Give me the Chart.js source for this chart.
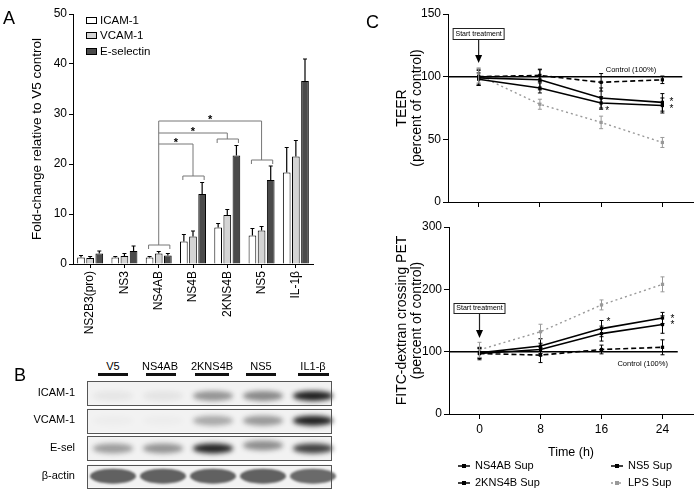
<!DOCTYPE html>
<html>
<head>
<meta charset="utf-8">
<script src="https://cdn.jsdelivr.net/npm/chart.js@4.4.0/dist/chart.umd.min.js"></script>
<style>
body { margin: 0; background: #fff; font-family: 'Liberation Sans', Arial, sans-serif; color: #000; }
#wrap { position: relative; width: 700px; height: 498px; overflow: hidden; }
canvas { position: absolute; }
.t { position: absolute; white-space: nowrap; line-height: 1; }
.bar { position: absolute; height: 3px; background: #111; }
.sw { position: absolute; width: 11px; height: 7px; border: 1px solid #000; box-sizing: border-box; }
</style>
</head>
<body>
<div id="wrap">
  <canvas id="chartA" width="330" height="350" style="left:0;top:0"></canvas>
  <canvas id="blot" width="260" height="111" style="left:80px;top:379px"></canvas>
  <canvas id="teer" width="330" height="215" style="left:370px;top:0"></canvas>
  <canvas id="fitc" width="330" height="245" style="left:370px;top:215px"></canvas>

  <div class="t" style="left:3px;top:9px;font-size:18px">A</div>
  <div class="t" style="left:14px;top:366px;font-size:18px">B</div>
  <div class="t" style="left:366px;top:13px;font-size:18px">C</div>

  <!-- panel A legend -->
  <div class="sw" style="left:86px;top:17px;background:#fff"></div>
  <div class="t" style="left:100px;top:15px;font-size:11.5px">ICAM-1</div>
  <div class="sw" style="left:86px;top:32px;background:#d4d4d4"></div>
  <div class="t" style="left:100px;top:30px;font-size:11.5px">VCAM-1</div>
  <div class="sw" style="left:86px;top:48px;background:#4a4a4a"></div>
  <div class="t" style="left:100px;top:46px;font-size:11.5px">E-selectin</div>

  <div id="blotText"></div>
  <div id="legendC"></div>
</div>
<script>
Chart.defaults.font.family = "'Liberation Sans', Arial, sans-serif";
Chart.defaults.color = '#000';

// ---- Panel A data ----
const categories = ['NS2B3(pro)', 'NS3', 'NS4AB', 'NS4B', '2KNS4B', 'NS5', 'IL-1β'];
const icam = [1.3, 1.3, 1.3, 4.5, 7.3, 5.7, 18.3];
const icamErr = [0.4, 0.2, 0.2, 1.4, 0.8, 1.4, 5.0];
const vcam = [1.2, 1.6, 2.1, 5.5, 9.8, 6.7, 21.5];
const vcamErr = [0.3, 0.5, 0.4, 1.1, 1.1, 0.8, 3.2];
const esel = [2.1, 2.6, 1.7, 14.0, 21.7, 16.8, 36.6];
const eselErr = [0.5, 1.0, 0.4, 2.3, 2.0, 2.8, 4.4];

// significance brackets (from NS4AB to each group)
const sigFrom = 2;
const sigBase = 3.8;
const sigTo = [3, 4, 5];
const sigLevel = [24, 26.2, 28.6];
const sigDrop = [17.6, 25, 20.8];

// ---- Panel B band intensities ----
const blotLanes = ['V5', 'NS4AB', '2KNS4B', 'NS5', 'IL1-β'];
const blotRows = ['ICAM-1', 'VCAM-1', 'E-sel', 'β-actin'];
const bandICAM = [0.05, 0.06, 0.42, 0.48, 0.95];
const bandVCAM = [0.02, 0.02, 0.32, 0.4, 0.95];
const bandEsel = [0.38, 0.42, 0.92, 0.45, 0.8];
const bandActin = [0.8, 0.8, 0.8, 0.8, 0.75];

// ---- Panel C data ----
const times = [0, 8, 16, 24];
const teerNS4AB = [100, 101, 95.5, 97.5];
const teerNS4ABErr = [6, 5, 7, 3];
const teer2KNS4B = [98, 91, 79, 77];
const teer2KNS4BErr = [5, 4, 5, 6];
const teerNS5 = [99, 97.5, 83, 79.5];
const teerNS5Err = [6, 8, 8, 7];
const teerLPS = [101, 78, 63.5, 47.5];
const teerLPSErr = [6, 4, 5, 4];

const fitcNS4AB = [97, 94.5, 103.5, 107];
const fitcNS4ABErr = [8, 12, 7, 12];
const fitc2KNS4B = [98, 109, 137, 154];
const fitc2KNS4BErr = [8, 12, 13, 9];
const fitcNS5 = [97, 103.5, 129, 143.5];
const fitcNS5Err = [10, 10, 12, 14];
const fitcLPS = [103, 132, 175, 208];
const fitcLPSErr = [12, 12, 8, 12];

// ---------- Panel A ----------
const barErrPlugin = {
  id: 'barErr',
  afterDatasetsDraw(chart) {
    const ctx = chart.ctx, y = chart.scales.y;
    ctx.save();
    ctx.strokeStyle = '#000';
    ctx.lineWidth = 1.2;
    chart.data.datasets.forEach((ds, i) => {
      chart.getDatasetMeta(i).data.forEach((bar, j) => {
        const top = y.getPixelForValue(ds.data[j] + ds.errs[j]);
        ctx.beginPath();
        ctx.moveTo(bar.x, bar.y);
        ctx.lineTo(bar.x, top);
        ctx.moveTo(bar.x - 2, top);
        ctx.lineTo(bar.x + 2, top);
        ctx.stroke();
      });
    });
    ctx.restore();
  }
};

const sigPlugin = {
  id: 'sig',
  afterDatasetsDraw(chart) {
    const ctx = chart.ctx, y = chart.scales.y;
    const first = chart.getDatasetMeta(0).data, last = chart.getDatasetMeta(2).data;
    const mid = chart.getDatasetMeta(1).data;
    const bracket = (i, v) => {
      const l = first[i].x - 1, r = last[i].x + 2, py = y.getPixelForValue(v);
      ctx.moveTo(l, py + 4); ctx.lineTo(l, py); ctx.lineTo(r, py); ctx.lineTo(r, py + 4);
    };
    ctx.save();
    ctx.strokeStyle = '#777';
    ctx.lineWidth = 1;
    ctx.beginPath();
    bracket(sigFrom, sigBase);
    const x0 = mid[sigFrom].x;
    ctx.moveTo(x0, y.getPixelForValue(sigBase));
    ctx.lineTo(x0, y.getPixelForValue(sigLevel[sigLevel.length - 1]));
    sigTo.forEach((t, k) => {
      const py = y.getPixelForValue(sigLevel[k]);
      const x1 = mid[t].x;
      ctx.moveTo(x0, py); ctx.lineTo(x1, py);
      ctx.lineTo(x1, y.getPixelForValue(sigDrop[k]));
      bracket(t, sigDrop[k]);
    });
    ctx.stroke();
    ctx.fillStyle = '#000';
    ctx.font = "bold 11px 'Liberation Sans', Arial";
    ctx.textAlign = 'center';
    ctx.textBaseline = 'alphabetic';
    sigTo.forEach((t, k) => {
      ctx.fillText('*', (x0 + mid[t].x) / 2, y.getPixelForValue(sigLevel[k]) + 2);
    });
    ctx.restore();
  }
};

const barStyle = { borderColor: '#000', borderWidth: 1, categoryPercentage: 0.8, barPercentage: 0.84 };
new Chart(document.getElementById('chartA'), {
  type: 'bar',
  data: {
    labels: categories,
    datasets: [
      Object.assign({ label: 'ICAM-1', data: icam, errs: icamErr, backgroundColor: '#fff' }, barStyle),
      Object.assign({ label: 'VCAM-1', data: vcam, errs: vcamErr, backgroundColor: '#d4d4d4' }, barStyle),
      Object.assign({ label: 'E-selectin', data: esel, errs: eselErr, backgroundColor: '#4a4a4a' }, barStyle)
    ]
  },
  options: {
    responsive: false,
    animation: false,
    layout: { padding: { top: 14, right: 17, left: 0, bottom: 0 } },
    plugins: { legend: { display: false }, tooltip: { enabled: false } },
    scales: {
      x: {
        grid: { display: true, drawOnChartArea: false, offset: false, tickLength: 4, color: '#000' },
        border: { color: '#000' },
        ticks: { minRotation: 90, maxRotation: 90, autoSkip: false, font: { size: 12 } },
        afterFit(s) { s.height = 86; }
      },
      y: {
        min: 0, max: 50,
        ticks: { stepSize: 10, font: { size: 12 }, padding: 2 },
        grid: { drawOnChartArea: false, tickLength: 4, color: '#000' },
        border: { color: '#000' },
        title: { display: true, text: 'Fold-change relative to V5 control', font: { size: 13.5 }, padding: { top: 29, bottom: 0 } },
        afterFit(s) { s.width = 73; }
      }
    }
  },
  plugins: [barErrPlugin, sigPlugin]
});

// ---------- Panel B ----------
const bandSets = [bandICAM, bandVCAM, bandEsel, bandActin];
const blotPlugin = {
  id: 'blotDraw',
  beforeDatasetsDraw(chart) {
    const ctx = chart.ctx, x = chart.scales.x, y = chart.scales.y;
    const bl = x.getPixelForValue(-0.52), br = x.getPixelForValue(4.36);
    ctx.save();
    blotRows.forEach((r, i) => {
      const cy = y.getPixelForValue(i + 0.5);
      const h = i === 3 ? 23 : 24;
      ctx.fillStyle = '#f2f2f2';
      ctx.fillRect(bl, cy - h / 2, br - bl, h);
    });
    chart.data.datasets.forEach((ds, i) => {
      chart.getDatasetMeta(i).data.forEach((pt, j) => {
        const v = ds.data[j].v;
        ctx.save();
        if (i === 3) {
          ctx.filter = 'blur(1.2px)';
          ctx.fillStyle = 'rgba(60,60,60,' + v + ')';
          ctx.beginPath();
          ctx.ellipse(pt.x, pt.y, 23, 7.5, 0, 0, Math.PI * 2);
          ctx.fill();
        } else {
          ctx.filter = 'blur(2.5px)';
          ctx.fillStyle = 'rgba(20,20,20,' + v + ')';
          const dy = (i === 0 ? 3 : 0) + (i === 2 && j === 3 ? -3 : 0);
          ctx.beginPath();
          ctx.ellipse(pt.x, pt.y + dy, 20, 5, 0, 0, Math.PI * 2);
          ctx.fill();
        }
        ctx.restore();
      });
    });
    ctx.strokeStyle = '#555';
    ctx.lineWidth = 1;
    blotRows.forEach((r, i) => {
      const cy = y.getPixelForValue(i + 0.5);
      const h = i === 3 ? 23 : 24;
      ctx.strokeRect(bl + 0.5, Math.round(cy - h / 2) + 0.5, br - bl, h);
    });
    ctx.restore();
  }
};
new Chart(document.getElementById('blot'), {
  type: 'scatter',
  data: {
    datasets: bandSets.map((arr, i) => ({
      label: blotRows[i],
      data: arr.map((v, j) => ({ x: j, y: i + 0.5, v: v })),
      pointRadius: 0
    }))
  },
  options: {
    responsive: false,
    animation: false,
    layout: { padding: { left: 8, right: 2, top: 0, bottom: 0 } },
    plugins: { legend: { display: false }, tooltip: { enabled: false } },
    scales: {
      x: { display: false, min: -0.5, max: 4.5 },
      y: { display: false, min: 0, max: 4, reverse: true }
    }
  },
  plugins: [blotPlugin]
});

// blot labels
(function () {
  const box = document.getElementById('blotText');
  const laneX = [113, 160, 212, 261, 313];
  const barSpan = [[98, 128], [146, 176], [195, 229], [246, 276], [298, 329]];
  let html = '';
  blotLanes.forEach((l, i) => {
    html += '<div class="t" style="left:' + (laneX[i] - 40) + 'px;width:80px;text-align:center;top:361px;font-size:11px">' + l + '</div>';
    html += '<div class="bar" style="left:' + barSpan[i][0] + 'px;width:' + (barSpan[i][1] - barSpan[i][0]) + 'px;top:373px"></div>';
  });
  const rowY = [393, 420, 448, 476];
  blotRows.forEach((r, i) => {
    html += '<div class="t" style="left:0;width:75px;text-align:right;top:' + (rowY[i] - 6) + 'px;font-size:11px">' + r + '</div>';
  });
  box.innerHTML = html;
})();

// ---------- Panel C ----------
const lineErrPlugin = {
  id: 'lineErr',
  afterDatasetsDraw(chart) {
    const ctx = chart.ctx, y = chart.scales.y;
    ctx.save();
    chart.data.datasets.forEach((ds, i) => {
      if (!ds.errs) return;
      ctx.strokeStyle = ds.borderColor;
      ctx.lineWidth = 1;
      chart.getDatasetMeta(i).data.forEach((pt, j) => {
        const v = ds.data[j].y, e = ds.errs[j];
        const t = y.getPixelForValue(v + e), b = y.getPixelForValue(v - e);
        ctx.beginPath();
        ctx.moveTo(pt.x, t); ctx.lineTo(pt.x, b);
        ctx.moveTo(pt.x - 2, t); ctx.lineTo(pt.x + 2, t);
        ctx.moveTo(pt.x - 2, b); ctx.lineTo(pt.x + 2, b);
        ctx.stroke();
      });
    });
    ctx.restore();
  }
};

const notesPlugin = {
  id: 'notes',
  afterDatasetsDraw(chart, args, o) {
    const ctx = chart.ctx, x = chart.scales.x, y = chart.scales.y;
    ctx.save();
    // start treatment box + arrow
    const bx = x.getPixelForValue(0), by = Math.round(y.getPixelForValue(o.boxTop)) + 0.5;
    ctx.fillStyle = '#fff';
    ctx.strokeStyle = '#222';
    ctx.lineWidth = 1;
    ctx.fillRect(bx - 25.5, by, 51, o.boxH);
    ctx.strokeRect(bx - 25.5, by, 51, o.boxH);
    ctx.fillStyle = '#000';
    ctx.font = "7px 'Liberation Sans', Arial";
    ctx.textAlign = 'center';
    ctx.textBaseline = 'middle';
    ctx.fillText('Start treatment', bx, by + o.boxH / 2);
    const tip = y.getPixelForValue(o.arrowTip);
    ctx.lineWidth = 1.2;
    ctx.beginPath();
    ctx.moveTo(bx, by + o.boxH);
    ctx.lineTo(bx, tip - 6);
    ctx.stroke();
    ctx.beginPath();
    ctx.moveTo(bx - 3.5, tip - 8);
    ctx.lineTo(bx + 3.5, tip - 8);
    ctx.lineTo(bx, tip);
    ctx.closePath();
    ctx.fill();
    // control label
    ctx.font = "7.5px 'Liberation Sans', Arial";
    ctx.fillText('Control (100%)', x.getPixelForValue(o.ctrlX), y.getPixelForValue(o.ctrlY));
    // asterisks
    ctx.font = "10px 'Liberation Sans', Arial";
    o.stars.forEach(s => {
      ctx.fillText('*', x.getPixelForValue(s[0]), y.getPixelForValue(s[1]) + 2);
    });
    ctx.restore();
  }
};

function seriesSet(values, errs) {
  const style = [
    { label: 'NS4AB Sup', borderColor: '#000', borderDash: [5, 3], borderWidth: 1.6 },
    { label: '2KNS4B Sup', borderColor: '#000', borderDash: [], borderWidth: 1.6 },
    { label: 'NS5 Sup', borderColor: '#000', borderDash: [], borderWidth: 1.6 },
    { label: 'LPS Sup', borderColor: '#999', borderDash: [2, 3], borderWidth: 1.4 }
  ];
  return style.map((s, i) => Object.assign({
    data: times.map((t, j) => ({ x: t, y: values[i][j] })),
    errs: errs[i],
    backgroundColor: s.borderColor,
    pointStyle: 'rect',
    pointRadius: 2.3,
    pointBorderWidth: 0,
    tension: 0
  }, s));
}

function lineChart(id, sets, yMax, yStep, yTitle, ctrlEnd, axisH, showTicks, notes) {
  const control = {
    label: 'Control',
    data: [{ x: -4, y: 100 }, { x: ctrlEnd, y: 100 }],
    borderColor: '#000', borderWidth: 1.5, pointRadius: 0
  };
  return new Chart(document.getElementById(id), {
    type: 'line',
    data: { datasets: [control].concat(sets) },
    options: {
      responsive: false,
      animation: false,
      layout: { padding: { top: id === 'teer' ? 14 : 12, right: 7, left: 0, bottom: 0 } },
      plugins: { legend: { display: false }, tooltip: { enabled: false }, notes: notes },
      scales: {
        x: {
          type: 'linear', min: -4, max: 28,
          afterBuildTicks(s) { s.ticks = times.map(v => ({ value: v })); },
          grid: { drawOnChartArea: false, tickLength: 5, color: '#000' },
          border: { color: '#000' },
          ticks: { font: { size: 12 }, padding: 3, color: showTicks ? '#000' : 'rgba(0,0,0,0)' },
          title: { display: showTicks, text: 'Time (h)', font: { size: 12.5 }, padding: { top: 3, bottom: 0 } },
          afterFit(s) { s.height = axisH; }
        },
        y: {
          min: 0, max: yMax,
          ticks: { stepSize: yStep, font: { size: 12 }, padding: 2 },
          grid: { drawOnChartArea: false, tickLength: 5, color: '#000' },
          border: { color: '#000' },
          title: { display: true, text: yTitle, font: { size: 14, lineHeight: 1.1 }, padding: { top: 24.3, bottom: 0 } },
          afterFit(s) { s.width = id === 'teer' ? 78 : 79; }
        }
      }
    },
    plugins: [lineErrPlugin, notesPlugin]
  });
}

lineChart('teer',
  seriesSet([teerNS4AB, teer2KNS4B, teerNS5, teerLPS], [teerNS4ABErr, teer2KNS4BErr, teerNS5Err, teerLPSErr]),
  150, 50, ['TEER', '(percent of control)'], 26.6, 13, false,
  { boxTop: 139, boxH: 11, arrowTip: 111, ctrlX: 19.9, ctrlY: 105.5,
    stars: [[16.8, 73.8], [25.2, 81], [25.2, 75.4]] });

lineChart('fitc',
  seriesSet([fitcNS4AB, fitc2KNS4B, fitcNS5, fitcLPS], [fitcNS4ABErr, fitc2KNS4BErr, fitcNS5Err, fitcLPSErr]),
  300, 100, ['FITC-dextran crossing PET', '(percent of control)'], 26, 46, true,
  { boxTop: 177.6, boxH: 10, arrowTip: 122, ctrlX: 21.4, ctrlY: 80,
    stars: [[16.9, 150], [25.3, 155], [25.3, 145]] });

// legend for panel C
(function () {
  const items = [
    ['NS4AB Sup', 458, 466, '#000', ''],
    ['2KNS4B Sup', 458, 483, '#000', ''],
    ['NS5 Sup', 611, 466, '#000', ''],
    ['LPS Sup', 611, 483, '#999', '2,2']
  ];
  let html = '';
  items.forEach(it => {
    html += '<svg style="position:absolute;left:' + it[1] + 'px;top:' + (it[2] - 4) + 'px" width="12" height="8">' +
      '<line x1="0" y1="4" x2="12" y2="4" stroke="' + it[3] + '" stroke-width="1.5"' + (it[4] ? ' stroke-dasharray="' + it[4] + '"' : '') + '/>' +
      '<rect x="4" y="2" width="4" height="4" fill="' + it[3] + '"/></svg>';
    html += '<div class="t" style="left:' + (it[1] + 17) + 'px;top:' + (it[2] - 6) + 'px;font-size:11px">' + it[0] + '</div>';
  });
  document.getElementById('legendC').innerHTML = html;
})();
</script>
</body>
</html>
